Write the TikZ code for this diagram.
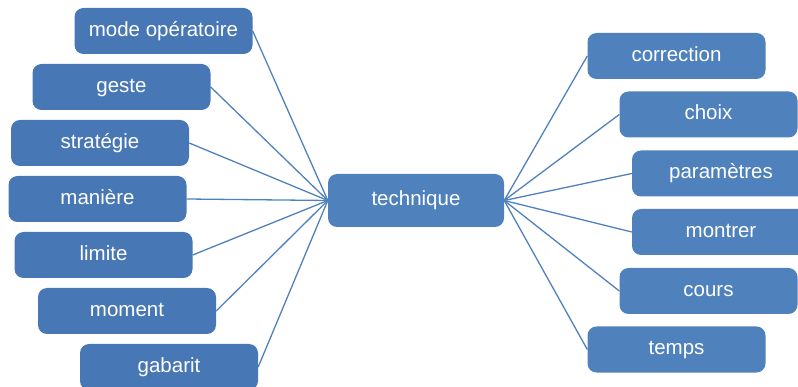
\documentclass[tikz,border=0pt]{standalone}
\usepackage{fontspec}
\setmainfont{Liberation Sans}
\usetikzlibrary{backgrounds}
\definecolor{boxleft}{HTML}{4777B4}
\definecolor{boxright}{HTML}{4F81BD}
\definecolor{linkblue}{HTML}{4F81BD}
\begin{document}
\begin{tikzpicture}[x=1pt,y=-1pt,
  leaf/.style={draw=none, fill=boxleft, rounded corners=9pt,
    minimum width=178pt, minimum height=46pt, inner sep=0pt,
    text=white, font=\fontsize{20.5}{24}\selectfont,
    text height=14pt, text depth=3.4pt},
  leafr/.style={leaf, fill=boxright},
  hub/.style={leaf, fill=boxright, minimum width=176pt, minimum height=53pt},
  link/.style={draw=linkblue, line width=1.3pt}]
\useasboundingbox (0,0) rectangle (798,387);

% central concept
\node[hub] (technique) at (416,200.5) {technique};

% left-hand branches
\node[leaf] (mode)      at (163.5,31)  {mode opératoire};
\node[leaf] (geste)     at (121.5,87)  {geste};
\node[leaf] (strategie) at (100,143)   {stratégie};
\node[leaf] (maniere)   at (97.5,199)  {manière};
\node[leaf] (limite)    at (103.5,255) {limite};
\node[leaf] (moment)    at (127,311)   {moment};
\node[leaf] (gabarit)   at (169,367)   {gabarit};

% right-hand branches
\node[leafr] (correction) at (676.5,56)  {correction};
\node[leafr] (choix)      at (708.5,114.5) {choix};
\node[leafr] (parametres) at (721,173.5) {paramètres};
\node[leafr] (montrer)    at (721,232)   {montrer};
\node[leafr] (cours)      at (708.5,291) {cours};
\node[leafr] (temps)      at (676.5,349.5) {temps};

\begin{scope}[on background layer]
  \foreach \n in {mode,geste,strategie,maniere,limite,moment,gabarit}
    \draw[link] (technique.west) -- (\n.east);
  \foreach \n in {correction,choix,parametres,montrer,cours,temps}
    \draw[link] (technique.east) -- (\n.west);
\end{scope}
\end{tikzpicture}
\end{document}
